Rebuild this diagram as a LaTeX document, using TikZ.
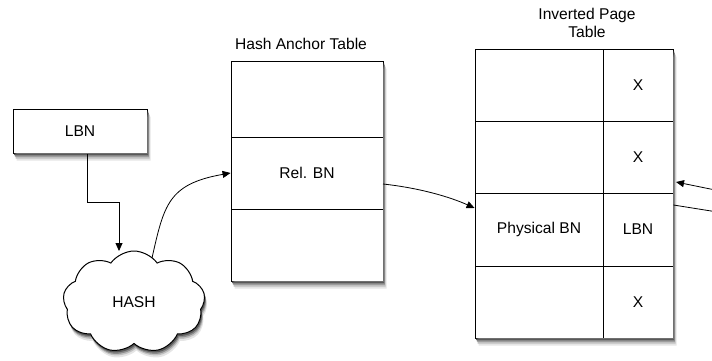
\documentclass[tikz,border=0pt]{standalone}
\usepackage{fontspec}
\setmainfont{Liberation Sans}
\usetikzlibrary{shapes.symbols,arrows.meta}
% shadow band below and right of a box: centre x, centre y, width, height, dx, dy, colour
\newcommand\shadowband[7]{%
  \fill[#7] ({#1-#3/2+#5},{#2+#4/2+0.6}) -- ({#1+#3/2+0.6},{#2+#4/2+0.6})
    -- ({#1+#3/2+0.6},{#2-#4/2+#6}) -- ({#1+#3/2+#5},{#2-#4/2+#6})
    -- ({#1+#3/2+#5},{#2+#4/2+#6}) -- ({#1-#3/2+#5},{#2+#4/2+#6}) -- cycle;}
\newcommand\shadowrect[4]{%
  \shadowband{#1}{#2}{#3}{#4}{3.5}{7.5}{black!10}
  \shadowband{#1}{#2}{#3}{#4}{2.5}{5.5}{black!25}
  \shadowband{#1}{#2}{#3}{#4}{1.8}{3.5}{black!45}
  \shadowband{#1}{#2}{#3}{#4}{1.2}{2}{black!65}}
\begin{document}
\begin{tikzpicture}[x=1pt,y=-1pt,
  every node/.style={font=\fontsize{15.6}{18}\selectfont},
  box/.style={draw,line width=1pt,fill=white,inner sep=0pt},
  cell/.style={draw,line width=0.9pt,inner sep=0pt},
  cloudbox/.style={cloud,cloud puffs=9,cloud puff arc=110,aspect=1.35,
    minimum width=142pt,minimum height=102pt,inner sep=0pt},
  conn/.style={line width=0.8pt,-{Triangle[length=8pt,width=7pt]}},
  lbl/.style={align=center}]
\useasboundingbox (0,0) rectangle (712,360);
% cloud shadow (behind the cloud)
\node[cloudbox,fill=black!10] at (136.5,309) {};
\node[cloudbox,fill=black!25] at (136,307) {};
\node[cloudbox,fill=black!45] at (135.5,305.5) {};
\node[cloudbox,fill=black!65] at (135,304) {};
% LBN box
\node[box,minimum width=134pt,minimum height=44pt] (lbn) at (80,131) {LBN};
% cloud
\node[cloudbox,draw,line width=1pt,fill=white] (hash) at (134,302) {HASH};
% Hash anchor table
\node[box,minimum width=152pt,minimum height=220pt] (hat) at (307,171) {};
\node[cell,minimum width=152pt,minimum height=76pt] (h1) at (307,99) {};
\node[cell,minimum width=152pt,minimum height=72pt] (rel) at (307,173) {Rel. BN};
\node[cell,minimum width=152pt,minimum height=72pt] (h3) at (307,245) {};
\node[lbl] (hatt) at (301,44) {Hash Anchor Table};
% Inverted page table
\node[box,minimum width=198pt,minimum height=289pt] (ipt) at (574,193.5) {};
\node[cell,minimum width=128pt,minimum height=72pt] (p1) at (539,85) {};
\node[cell,minimum width=70pt,minimum height=72pt] (x1) at (638,85) {X};
\node[cell,minimum width=128pt,minimum height=72pt] (p2) at (539,157) {};
\node[cell,minimum width=70pt,minimum height=72pt] (x2) at (638,157) {X};
\node[cell,minimum width=128pt,minimum height=73pt] (phys) at (539,229.5) {Physical BN};
\node[cell,minimum width=70pt,minimum height=73pt] (lbnc) at (638,229.5) {LBN};
\node[cell,minimum width=128pt,minimum height=72pt] (p4) at (539,302) {};
\node[cell,minimum width=70pt,minimum height=72pt] (x4) at (638,302) {X};
\node[lbl] (iptt) at (587,23) {Inverted Page\\Table};
% box shadows, drawn outside the boxes
\shadowrect{80}{131}{134}{44}
\shadowrect{307}{171}{152}{220}
\shadowrect{574}{193.5}{198}{289}
% connectors
\coordinate (k1) at (87,202);
\coordinate (k2) at (119,202);
\draw[conn] (lbn.south -| k1) -- (k1) -- (k2) -- (k2 |- 0,251);
\coordinate (cs) at (152,258);
\draw[conn] (cs) .. controls (164,205) and (168,184) .. (rel.west);
\draw[conn] (383,184) .. controls (420,188) and (450,197) .. (phys.west |- 0,208);
\coordinate (off1) at (730,214);
\coordinate (off2) at (730,193);
\begin{scope}
\clip (0,0) rectangle (712,360);
\draw[line width=0.8pt] (lbnc.east |- 0,205) -- (off1);
\draw[conn] (off2) -- (676,182);
\end{scope}
\end{tikzpicture}
\end{document}
